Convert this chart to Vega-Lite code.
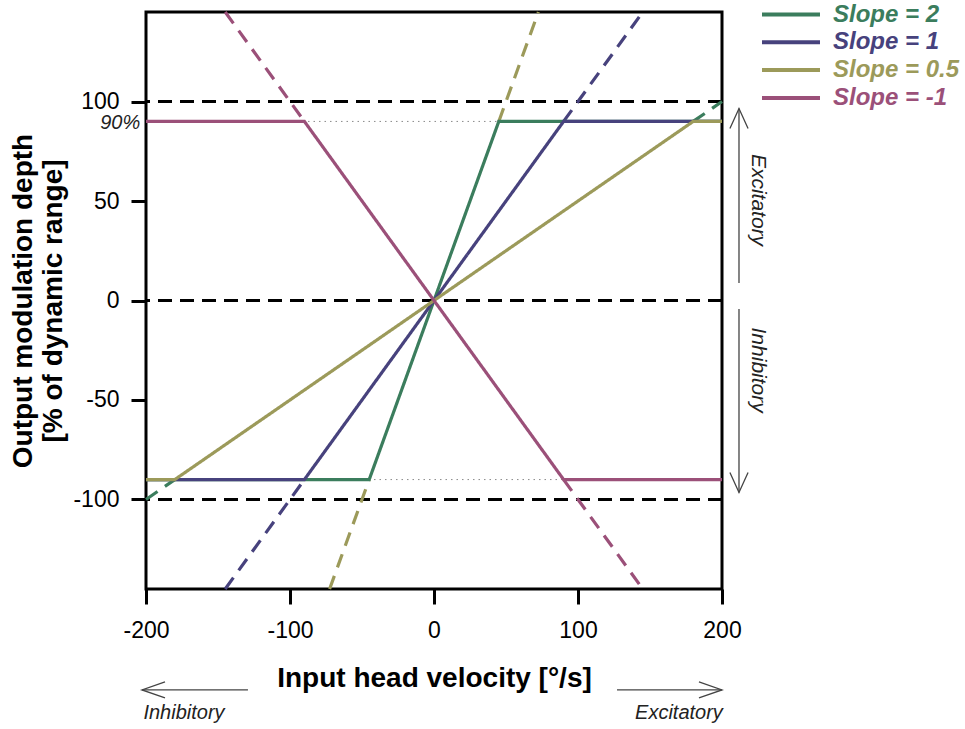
{
  "$schema": "https://vega.github.io/schema/vega-lite/v6.json",
  "width": 576,
  "height": 577,
  "autosize": {"type": "none"},
  "padding": {"left": 146, "top": 12, "right": 243, "bottom": 140},
  "config": {
    "font": "Liberation Sans",
    "view": {"stroke": "black", "strokeWidth": 3}
  },
  "datasets": {
    "lines": [
      {"seg": "d2a", "col": "Slope = 0.5", "style": "dashed", "x": 45, "y": 90},
      {"seg": "d2a", "col": "Slope = 0.5", "style": "dashed", "x": 72.5, "y": 145},
      {"seg": "d2b", "col": "Slope = 0.5", "style": "dashed", "x": -72.5, "y": -145},
      {"seg": "d2b", "col": "Slope = 0.5", "style": "dashed", "x": -45, "y": -90},
      {"seg": "d1a", "col": "Slope = 1", "style": "dashed", "x": 90, "y": 90},
      {"seg": "d1a", "col": "Slope = 1", "style": "dashed", "x": 145, "y": 145},
      {"seg": "d1b", "col": "Slope = 1", "style": "dashed", "x": -145, "y": -145},
      {"seg": "d1b", "col": "Slope = 1", "style": "dashed", "x": -90, "y": -90},
      {"seg": "d05a", "col": "Slope = 2", "style": "dashed", "x": 180, "y": 90},
      {"seg": "d05a", "col": "Slope = 2", "style": "dashed", "x": 200, "y": 100},
      {"seg": "d05b", "col": "Slope = 2", "style": "dashed", "x": -200, "y": -100},
      {"seg": "d05b", "col": "Slope = 2", "style": "dashed", "x": -180, "y": -90},
      {"seg": "dm1a", "col": "Slope = -1", "style": "dashed", "x": -145, "y": 145},
      {"seg": "dm1a", "col": "Slope = -1", "style": "dashed", "x": -90, "y": 90},
      {"seg": "dm1b", "col": "Slope = -1", "style": "dashed", "x": 90, "y": -90},
      {"seg": "dm1b", "col": "Slope = -1", "style": "dashed", "x": 145, "y": -145},
      {"seg": "s2", "col": "Slope = 2", "style": "solid", "x": -200, "y": -90},
      {"seg": "s2", "col": "Slope = 2", "style": "solid", "x": -45, "y": -90},
      {"seg": "s2", "col": "Slope = 2", "style": "solid", "x": 45, "y": 90},
      {"seg": "s2", "col": "Slope = 2", "style": "solid", "x": 200, "y": 90},
      {"seg": "s1", "col": "Slope = 1", "style": "solid", "x": -200, "y": -90},
      {"seg": "s1", "col": "Slope = 1", "style": "solid", "x": -90, "y": -90},
      {"seg": "s1", "col": "Slope = 1", "style": "solid", "x": 90, "y": 90},
      {"seg": "s1", "col": "Slope = 1", "style": "solid", "x": 200, "y": 90},
      {"seg": "s05", "col": "Slope = 0.5", "style": "solid", "x": -200, "y": -90},
      {"seg": "s05", "col": "Slope = 0.5", "style": "solid", "x": -180, "y": -90},
      {"seg": "s05", "col": "Slope = 0.5", "style": "solid", "x": 180, "y": 90},
      {"seg": "s05", "col": "Slope = 0.5", "style": "solid", "x": 200, "y": 90},
      {"seg": "sm1", "col": "Slope = -1", "style": "solid", "x": -200, "y": 90},
      {"seg": "sm1", "col": "Slope = -1", "style": "solid", "x": -90, "y": 90},
      {"seg": "sm1", "col": "Slope = -1", "style": "solid", "x": 90, "y": -90},
      {"seg": "sm1", "col": "Slope = -1", "style": "solid", "x": 200, "y": -90}
    ],
    "arrows": [
      {"part": "rt_shaft", "i": 0, "x": 211.8, "y": 96.5},
      {"part": "rt_shaft", "i": 1, "x": 211.8, "y": 8.8},
      {"part": "rt_head", "i": 0, "x": 205.5, "y": 86.5},
      {"part": "rt_head", "i": 1, "x": 211.8, "y": 96.5},
      {"part": "rt_head", "i": 2, "x": 218.1, "y": 86.5},
      {"part": "rb_shaft", "i": 0, "x": 211.8, "y": -4.3},
      {"part": "rb_shaft", "i": 1, "x": 211.8, "y": -96.5},
      {"part": "rb_head", "i": 0, "x": 205.5, "y": -86.5},
      {"part": "rb_head", "i": 1, "x": 211.8, "y": -96.5},
      {"part": "rb_head", "i": 2, "x": 218.1, "y": -86.5},
      {"part": "bl_shaft", "i": 0, "x": -202.8, "y": -195.7},
      {"part": "bl_shaft", "i": 1, "x": -129.2, "y": -195.7},
      {"part": "bl_head", "i": 0, "x": -186.8, "y": -191.7},
      {"part": "bl_head", "i": 1, "x": -202.8, "y": -195.7},
      {"part": "bl_head", "i": 2, "x": -186.8, "y": -199.7},
      {"part": "br_shaft", "i": 0, "x": 127.1, "y": -195.7},
      {"part": "br_shaft", "i": 1, "x": 200, "y": -195.7},
      {"part": "br_head", "i": 0, "x": 184, "y": -191.7},
      {"part": "br_head", "i": 1, "x": 200, "y": -195.7},
      {"part": "br_head", "i": 2, "x": 184, "y": -199.7}
    ]
  },
  "encoding": {
    "x": {
      "type": "quantitative",
      "scale": {"domain": [-200, 200], "nice": false, "zero": false},
      "axis": {
        "values": [-200, -100, 0, 100, 200],
        "labelExpr": "toString(datum.value)",
        "grid": false,
        "domain": false,
        "tickSize": 15,
        "tickWidth": 3,
        "tickColor": "black",
        "labelFontSize": 23,
        "labelColor": "black",
        "labelPadding": 15,
        "labelFlush": false,
        "title": "Input head velocity [°/s]",
        "titleFontSize": 28,
        "titleFontWeight": "bold",
        "titleColor": "black",
        "titlePadding": 22
      }
    },
    "y": {
      "type": "quantitative",
      "scale": {"domain": [-145, 145], "nice": false, "zero": false},
      "axis": {
        "values": [-100, -50, 0, 50, 100],
        "labelExpr": "toString(datum.value)",
        "grid": false,
        "domain": false,
        "tickSize": 15,
        "tickWidth": 3,
        "tickColor": "black",
        "labelFontSize": 23,
        "labelColor": "black",
        "labelPadding": 12,
        "labelFlush": false,
        "title": ["Output modulation depth", "[% of dynamic range]"],
        "titleFontSize": 28,
        "titleFontWeight": "bold",
        "titleColor": "black",
        "titleLineHeight": 30,
        "titlePadding": 5
      }
    },
    "color": {
      "field": "col",
      "type": "nominal",
      "scale": {
        "domain": ["Slope = 2", "Slope = 1", "Slope = 0.5", "Slope = -1"],
        "range": ["#3b7d5d", "#47427d", "#9c9a5a", "#9b5079"]
      },
      "legend": {
        "title": null,
        "orient": "none",
        "legendX": 631,
        "legendY": -11.5,
        "symbolType": "M-2.5,0H2.5",
        "symbolSize": 538,
        "symbolStrokeWidth": 4,
        "labelOffset": 28,
        "labelFontSize": 24,
        "labelFontWeight": "bold",
        "labelFontStyle": "italic",
        "labelColor": {"expr": "datum.label == 'Slope = 2' ? '#3b7d5d' : datum.label == 'Slope = 1' ? '#47427d' : datum.label == 'Slope = 0.5' ? '#9c9a5a' : '#9b5079'"},
        "rowPadding": 1.8
      }
    }
  },
  "layer": [
    {
      "data": {"values": [{"level": 90}, {"level": -90}]},
      "mark": {"type": "rule", "color": "#8a8a8a", "strokeWidth": 1, "strokeDash": [1.5, 4]},
      "encoding": {"y": {"field": "level", "type": "quantitative"}, "color": null}
    },
    {
      "data": {"values": [{"level": 100}, {"level": 0}, {"level": -100}]},
      "mark": {"type": "rule", "color": "black", "strokeWidth": 3, "strokeDash": [14, 8]},
      "encoding": {"y": {"field": "level", "type": "quantitative"}, "color": null}
    },
    {
      "data": {"name": "lines"},
      "mark": {"type": "line", "strokeWidth": 3.2},
      "encoding": {
        "x": {"field": "x", "type": "quantitative"},
        "y": {"field": "y", "type": "quantitative"},
        "detail": {"field": "seg"},
        "strokeDash": {
          "field": "style",
          "type": "nominal",
          "scale": {"domain": ["solid", "dashed"], "range": [[1, 0], [14, 9]]},
          "legend": null
        }
      }
    },
    {
      "data": {"name": "arrows"},
      "mark": {"type": "line", "color": "#444444", "strokeWidth": 1.3},
      "encoding": {
        "x": {"field": "x", "type": "quantitative"},
        "y": {"field": "y", "type": "quantitative"},
        "detail": {"field": "part"},
        "order": {"field": "i"},
        "color": null
      }
    },
    {
      "data": {"values": [
        {"label": "Inhibitory", "x": -173.6, "y": -207.5},
        {"label": "Excitatory", "x": 170.1, "y": -207.5}
      ]},
      "mark": {"type": "text", "fontSize": 20, "fontStyle": "italic", "color": "#222222", "align": "center", "baseline": "middle"},
      "encoding": {
        "x": {"field": "x", "type": "quantitative"},
        "y": {"field": "y", "type": "quantitative"},
        "text": {"field": "label"},
        "color": null
      }
    },
    {
      "data": {"values": [
        {"label": "Excitatory", "x": 225, "y": 50.5},
        {"label": "Inhibitory", "x": 225, "y": -35}
      ]},
      "mark": {"type": "text", "fontSize": 21, "fontStyle": "italic", "color": "#222222", "align": "center", "baseline": "middle", "angle": 90},
      "encoding": {
        "x": {"field": "x", "type": "quantitative"},
        "y": {"field": "y", "type": "quantitative"},
        "text": {"field": "label"},
        "color": null
      }
    },
    {
      "data": {"values": [{"label": "90%", "x": -204, "y": 89}]},
      "mark": {"type": "text", "fontSize": 20, "fontStyle": "italic", "color": "#222222", "align": "right", "baseline": "middle"},
      "encoding": {
        "x": {"field": "x", "type": "quantitative"},
        "y": {"field": "y", "type": "quantitative"},
        "text": {"field": "label"},
        "color": null
      }
    }
  ]
}
